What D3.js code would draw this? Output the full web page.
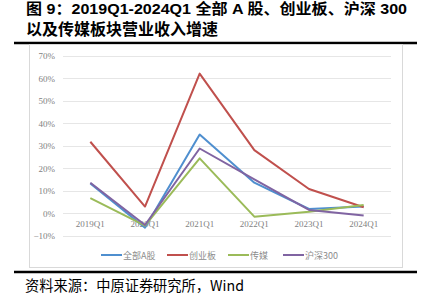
<!DOCTYPE html>
<html>
<head>
<meta charset="utf-8">
<script src="https://cdn.jsdelivr.net/npm/d3@7"></script>
<style>
  body { margin: 0; background: #fff; }
  svg { display: block; }
</style>
</head>
<body>
<div id="chart"></div>
<script>
const quarters = ['2019Q1', '2020Q1', '2021Q1', '2022Q1', '2023Q1', '2024Q1'];
const allA = [13.3, -6.4, 35.0, 13.6, 1.9, 3.0];
const chinext = [31.8, 3.0, 62.1, 28.1, 10.8, 2.7];
const media = [6.7, -5.5, 24.4, -1.5, 0.7, 3.7];
const hs300 = [13.6, -5.2, 28.8, 15.1, 1.5, -1.0];
const yTicks = [-10, 0, 10, 20, 30, 40, 50, 60, 70];

const seriesNames = ['全部A股', '创业板', '传媒', '沪深300'];
const colors = ['#4f8fcf', '#c0504d', '#9bbb59', '#8064a2'];
const seriesValues = [allA, chinext, media, hs300];

const W = 429, H = 308;
const svg = d3.select('#chart').append('svg')
  .attr('width', W).attr('height', H);

// title
svg.append('text')
  .attr('x', 26).attr('y', 13.5)
  .attr('textLength', 381).attr('lengthAdjust', 'spacingAndGlyphs')
  .style('font-family', 'Liberation Sans, Noto Sans CJK SC, sans-serif')
  .style('font-size', '15px').style('font-weight', 'bold')
  .attr('fill', '#000')
  .text('图 9：2019Q1-2024Q1 全部 A 股、创业板、沪深 300');
svg.append('text')
  .attr('x', 26).attr('y', 35)
  .style('font-family', 'Noto Sans CJK SC, sans-serif')
  .style('font-size', '16px').style('font-weight', 'bold')
  .attr('fill', '#000')
  .text('以及传媒板块营业收入增速');

// rules
svg.append('line').attr('x1', 14).attr('x2', 417).attr('y1', 43).attr('y2', 43)
  .attr('stroke', '#000').attr('stroke-width', 2.5);
svg.append('rect').attr('x', 29.5).attr('y', 44.5).attr('width', 373).attr('height', 223)
  .attr('fill', 'none').attr('stroke', '#d9d9d9');
svg.append('line').attr('x1', 14).attr('x2', 417).attr('y1', 272).attr('y2', 272)
  .attr('stroke', '#000').attr('stroke-width', 2.5);

// scales
const x = d3.scalePoint().domain(quarters).range([63, 391]).padding(0.5);
const y = d3.scaleLinear().domain([-10, 70]).range([235.8, 55.8]);

const g = svg.append('g');

// grid
g.selectAll('line.grid').data(yTicks).enter().append('line')
  .attr('x1', 63).attr('x2', 391)
  .attr('y1', d => Math.round(y(d)) + 0.5).attr('y2', d => Math.round(y(d)) + 0.5)
  .attr('stroke', '#e6e6e6').attr('stroke-width', 1);

// y axis labels
const axisFont = 'Liberation Serif, DejaVu Serif, serif';
g.selectAll('text.ylab').data(yTicks).enter().append('text')
  .attr('x', 55).attr('y', d => y(d) + 3.2)
  .attr('text-anchor', 'end')
  .style('font-family', axisFont).style('font-size', '9px')
  .attr('fill', '#7f7f7f')
  .text(d => (d < 0 ? '−' : '') + Math.abs(d) + '%');

// x axis labels
g.selectAll('text.xlab').data(quarters).enter().append('text')
  .attr('x', d => x(d)).attr('y', 227)
  .attr('text-anchor', 'middle')
  .style('font-family', axisFont).style('font-size', '9px')
  .attr('fill', '#7f7f7f')
  .text(d => d);

// lines
const line = d3.line().x((d, i) => x(quarters[i])).y(d => y(d));
seriesValues.forEach((vals, k) => {
  g.append('path').datum(vals)
    .attr('d', line)
    .attr('fill', 'none')
    .attr('stroke', colors[k])
    .attr('stroke-width', 2)
    .attr('stroke-linejoin', 'round');
});

// legend
const legendX = [101, 167, 228, 283];
const legend = svg.append('g');
seriesNames.forEach((name, k) => {
  legend.append('line')
    .attr('x1', legendX[k]).attr('x2', legendX[k] + 21)
    .attr('y1', 255).attr('y2', 255)
    .attr('stroke', colors[k]).attr('stroke-width', 2);
  legend.append('text')
    .attr('x', legendX[k] + 22).attr('y', 258.5)
    .style('font-family', 'Noto Sans CJK SC, ' + axisFont).style('font-size', '9px')
    .attr('fill', '#8c8c8c')
    .text(name);
});

// source
svg.append('text')
  .attr('x', 25).attr('y', 291)
  .attr('textLength', 219).attr('lengthAdjust', 'spacingAndGlyphs')
  .style('font-family', 'Noto Sans CJK SC, sans-serif')
  .style('font-size', '14.5px')
  .attr('fill', '#000')
  .text('资料来源：中原证券研究所，Wind');
</script>
</body>
</html>
